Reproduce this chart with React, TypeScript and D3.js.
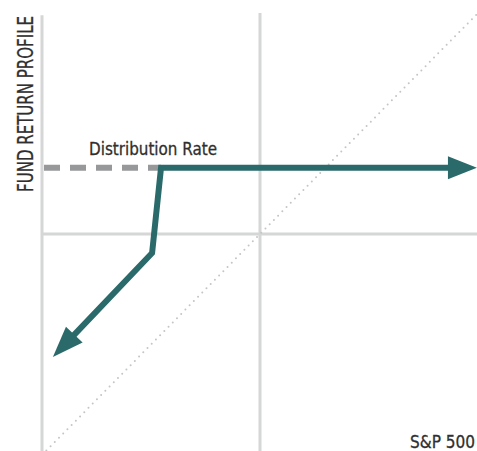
import { line, scaleLinear } from "d3";

const WIDTH = 477;
const HEIGHT = 451;

// chart values, in percent of the half-range of each axis
const DISTRIBUTION_RATE = 30;
const PROFILE_X = [-95, -49.5, -45.4, 99.5];
const PROFILE_Y = [-55.7, -8.6, DISTRIBUTION_RATE, DISTRIBUTION_RATE];
const DASH_X = [-100, -45.4];
const DIAGONAL = [-98, 100];
const AXIS_LABELS = { x: "S&P 500", y: "FUND RETURN PROFILE", rate: "Distribution Rate" };

const TEAL = "#2a6a6b";
const GRID = "#d5d6d6";
const INK = "#2f2f2f";
const FONT = "'Liberation Sans Narrow', 'DejaVu Sans Condensed', Lato, sans-serif";

type Pt = [number, number];

function arrowHead(from: Pt, tip: Pt, len: number, half: number) {
  const dx = tip[0] - from[0];
  const dy = tip[1] - from[1];
  const d = Math.hypot(dx, dy);
  const ux = dx / d;
  const uy = dy / d;
  const bx = tip[0] - ux * len;
  const by = tip[1] - uy * len;
  const pts: Pt[] = [
    tip,
    [bx - uy * half, by + ux * half],
    [bx + uy * half, by - ux * half],
  ];
  return { points: pts.map((p) => p.join(",")).join(" "), base: [bx + ux * 2, by + uy * 2] as Pt };
}

export default function App() {
  const x = scaleLinear().domain([-100, 100]).range([42, 478]);
  const y = scaleLinear().domain([-100, 100]).range([455, 13]);

  const pts: Pt[] = PROFILE_X.map((v, i) => [x(v), y(PROFILE_Y[i])]);
  const head = arrowHead(pts[1], pts[0], 31, 11.5);
  const tail = arrowHead(pts[2], pts[3], 29, 11.5);
  const shaft: Pt[] = [head.base, pts[1], pts[2], tail.base];
  const path = line<Pt>()(shaft);

  return (
    <svg
      width={WIDTH}
      height={HEIGHT}
      viewBox={`0 0 ${WIDTH} ${HEIGHT}`}
      style={{ position: "absolute", left: 0, top: 0, background: "#fff" }}
    >
      {/* grid */}
      <line x1={x(-100)} x2={x(-100)} y1={y(99)} y2={HEIGHT} stroke={GRID} strokeWidth={3} />
      <line x1={x(0)} x2={x(0)} y1={y(100)} y2={HEIGHT} stroke={GRID} strokeWidth={3} />
      <line x1={x(-100)} x2={WIDTH} y1={y(0)} y2={y(0)} stroke={GRID} strokeWidth={3} />
      <line
        x1={x(DIAGONAL[0])}
        y1={y(DIAGONAL[0])}
        x2={x(DIAGONAL[1])}
        y2={y(DIAGONAL[1])}
        stroke="#c4c5c5"
        strokeWidth={2}
        strokeLinecap="round"
        strokeDasharray="0 6"
      />

      {/* distribution rate */}
      <line
        x1={x(DASH_X[0]) + 2}
        x2={x(DASH_X[1])}
        y1={y(DISTRIBUTION_RATE)}
        y2={y(DISTRIBUTION_RATE)}
        stroke="#97989a"
        strokeWidth={6}
        strokeDasharray="16 10"
      />
      <text
        x={153}
        y={155}
        textAnchor="middle"
        fontFamily={FONT}
        fontSize={18}
        fill={INK}
        stroke={INK}
        strokeWidth={0.3}
        textLength={128}
        lengthAdjust="spacingAndGlyphs"
      >
        {AXIS_LABELS.rate}
      </text>

      {/* profile */}
      <path d={path ?? ""} fill="none" stroke={TEAL} strokeWidth={6} strokeLinejoin="miter" />
      <polygon points={head.points} fill={TEAL} />
      <polygon points={tail.points} fill={TEAL} />

      {/* axis labels */}
      <text
        transform="translate(33,192) rotate(-90)"
        fontFamily={FONT}
        fontSize={22}
        fill={INK}
        stroke={INK}
        strokeWidth={0.3}
        textLength={176}
        lengthAdjust="spacingAndGlyphs"
      >
        {AXIS_LABELS.y}
      </text>
      <text
        x={475}
        y={448}
        textAnchor="end"
        fontFamily={FONT}
        fontSize={18}
        fill={INK}
        stroke={INK}
        strokeWidth={0.3}
        textLength={65}
        lengthAdjust="spacingAndGlyphs"
      >
        {AXIS_LABELS.x}
      </text>
    </svg>
  );
}
